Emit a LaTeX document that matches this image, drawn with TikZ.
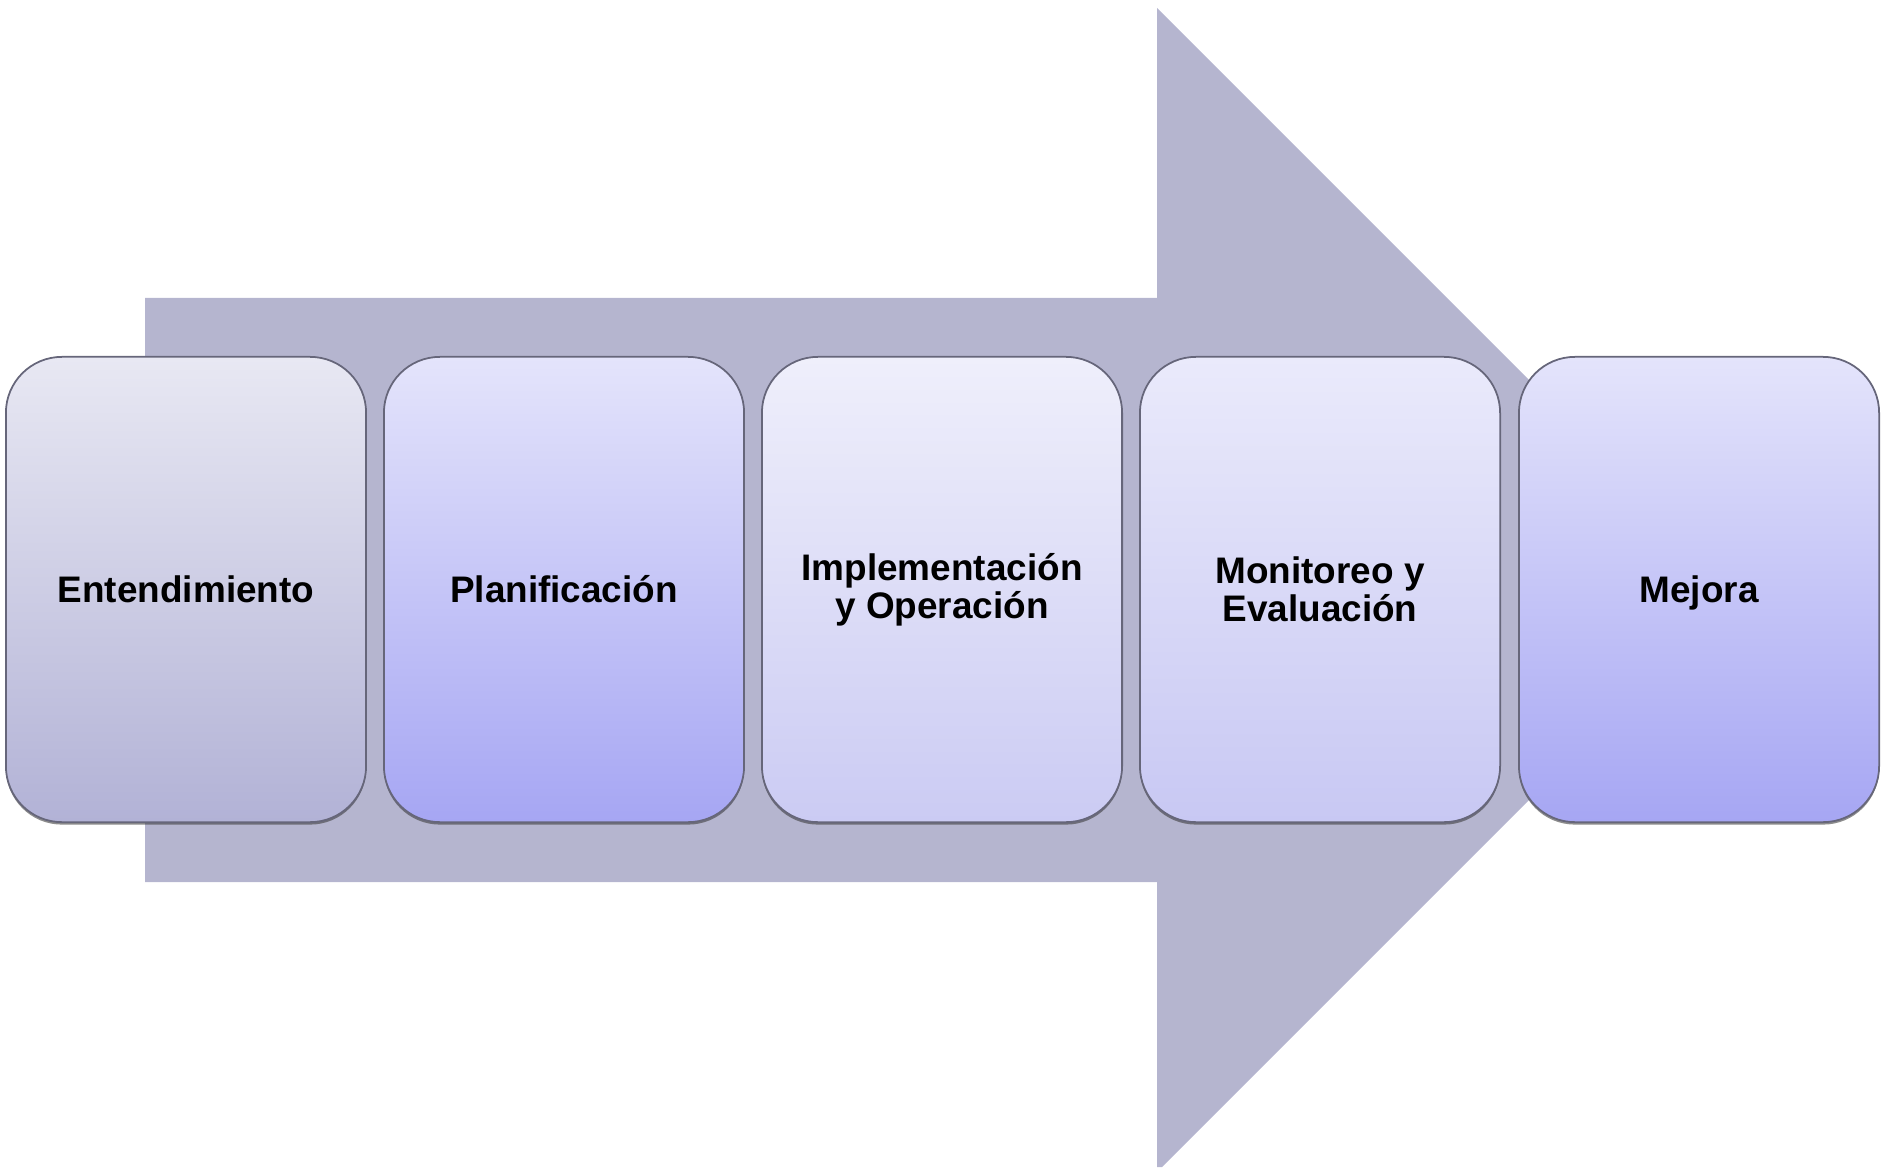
\documentclass[tikz,border=0pt]{standalone}
\usepackage{fontspec}
\setmainfont{Liberation Sans}
\usetikzlibrary{shadows}
\definecolor{arrowfill}{HTML}{B5B5CF}
\definecolor{boxline}{HTML}{66667A}
\tikzset{
  stage/.style={
    rectangle, rounded corners=0.56cm,
    minimum width=3.6cm, minimum height=4.65cm,
    draw=boxline, line width=0.5pt,
    align=center, text=black,
    font=\fontsize{10.5pt}{10.9pt}\selectfont\bfseries,
    drop shadow={shadow xshift=0pt, shadow yshift=-0.7pt, opacity=0.6, fill=black!75}
  },
  stageA/.style={stage, top color={rgb,255:red,232;green,232;blue,243}, bottom color={rgb,255:red,178;green,178;blue,214}},
  stageB/.style={stage, top color={rgb,255:red,228;green,228;blue,251}, bottom color={rgb,255:red,166;green,166;blue,243}},
  stageC/.style={stage, top color={rgb,255:red,239;green,239;blue,251}, bottom color={rgb,255:red,203;green,203;blue,243}},
  stageD/.style={stage, top color={rgb,255:red,234;green,234;blue,251}, bottom color={rgb,255:red,200;green,200;blue,243}},
}
\begin{document}
\begin{tikzpicture}[x=0.01cm, y=-0.01cm]
  \useasboundingbox (0,0) rectangle (1883,1167);
  % large background arrow
  \fill[arrowfill] (145,298) -- (1157,298) -- (1157,8) -- (1739,590)
    -- (1162,1167) -- (1157,1167) -- (1157,882) -- (145,882) -- cycle;
  % process stages
  \node[stageA] (s1) at (186,589.5) {Entendimiento};
  \node[stageB] (s2) at (564,589.5) {Planificación};
  \node[stageC] (s3) at (942,589.5) {Implementación\\y Operación};
  \node[stageD] (s4) at (1320,589.5) {Monitoreo y\\Evaluación};
  \node[stageB, text depth=0pt] (s5) at (1699,589.5) {Mejora};
\end{tikzpicture}
\end{document}
